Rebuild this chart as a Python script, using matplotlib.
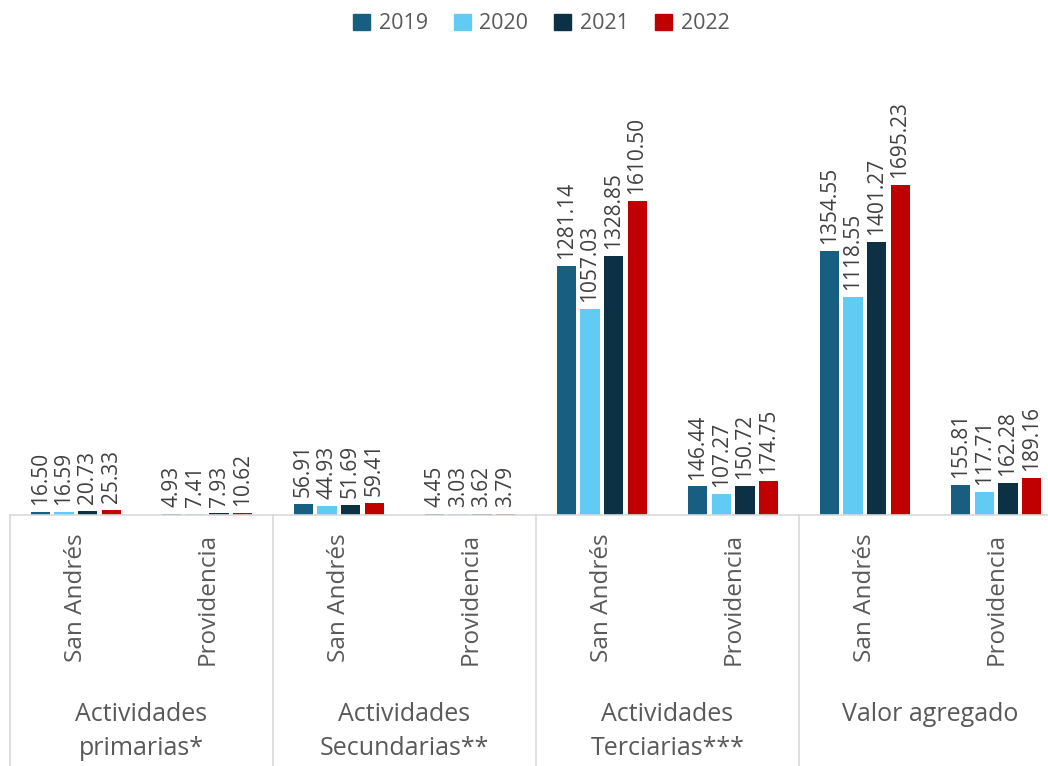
import matplotlib
matplotlib.use("Agg")
import matplotlib.pyplot as plt
import matplotlib.transforms as mtransforms
from matplotlib.patches import Patch
import numpy as np

plt.rcParams['font.family'] = ['Open Sans', 'DejaVu Sans']

years = ['2019', '2020', '2021', '2022']
colors = ['#175E80', '#61CBF3', '#0C3044', '#C00000']
places = ['San Andrés', 'Providencia'] * 4
groups = ['Actividades\nprimarias*', 'Actividades\nSecundarias**',
          'Actividades\nTerciarias***', 'Valor agregado']

v2019 = [16.50, 4.93, 56.91, 4.45, 1281.14, 146.44, 1354.55, 155.81]
v2020 = [16.59, 7.41, 44.93, 3.03, 1057.03, 107.27, 1118.55, 117.71]
v2021 = [20.73, 7.93, 51.69, 3.62, 1328.85, 150.72, 1401.27, 162.28]
v2022 = [25.33, 10.62, 59.41, 3.79, 1610.50, 174.75, 1695.23, 189.16]
series = [v2019, v2020, v2021, v2022]

W, H = 1048, 766
fig = plt.figure(figsize=(W / 100, H / 100), dpi=100)
ax = fig.add_axes([10 / W, (H - 515) / H, (1062 - 10) / W, (515 - 60) / H])

x = np.arange(len(places))
step = 0.179
width = 0.145
txt = '#595959'

for j, vals in enumerate(series):
    xs = x + (j - 1.5) * step
    ax.bar(xs, vals, width, color=colors[j])
    for xi, v in zip(xs, vals):
        ax.annotate(f"{v:.2f}", xy=(xi, v), xytext=(0, 5), textcoords='offset points',
                    rotation=90, ha='center', va='bottom', fontsize=15, color='#404040')

ax.set_xlim(-0.5, 7.5)
ax.set_ylim(0, 455 / 0.1947)
for s in ['top', 'right', 'left']:
    ax.spines[s].set_visible(False)
ax.spines['bottom'].set_color('#D9D9D9')
ax.spines['bottom'].set_linewidth(1.2)
ax.set_xticks([])
ax.set_yticks([])

tr = mtransforms.blended_transform_factory(ax.transData, fig.transFigure)
for i, p in enumerate(places):
    ax.text(x[i], (H - 533) / H, p, transform=tr, rotation=90, ha='center', va='top',
            fontsize=17.5, color=txt)
for g in range(4):
    ax.text(2 * g + 0.5, (H - 702) / H, groups[g], transform=tr, ha='center', va='top',
            fontsize=18, color=txt, linespacing=1.45)
for b in range(5):
    ax.plot([2 * b - 0.5, 2 * b - 0.5], [(H - 515) / H, 0], transform=tr,
            color='#D9D9D9', lw=1.2, clip_on=False)

handles = [Patch(color=c, label=y) for c, y in zip(colors, years)]
fig.legend(handles=handles, loc='upper center', bbox_to_anchor=(541 / W, 1.008),
           ncol=4, frameon=False, fontsize=15.5, handlelength=0.8, handleheight=0.8,
           handletextpad=0.4, columnspacing=1.2, labelcolor=txt)

fig.savefig('out.png', dpi=100)
